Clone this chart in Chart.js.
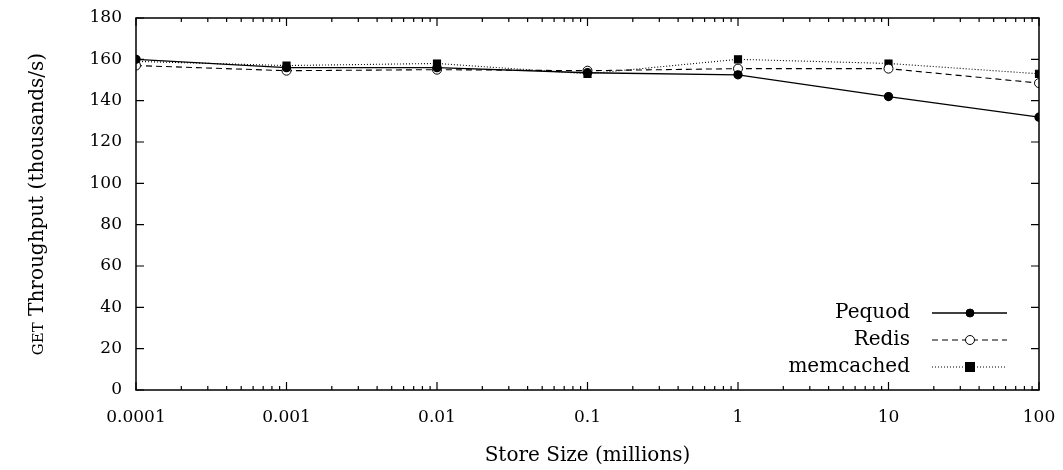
<!DOCTYPE html>
<html>
<head>
<meta charset="utf-8">
<script src="https://cdn.jsdelivr.net/npm/chart.js@4"></script>
<style>
	body { margin: 0; background: #fff; }
	#chart { display: block; }
</style>
</head>
<body>
<canvas id="chart" width="1063" height="470"></canvas>
<script>
// store sizes (millions), log x axis
var store_sizes = [0.0001, 0.001, 0.01, 0.1, 1, 10, 100];
var x_tick_labels = ['0.0001', '0.001', '0.01', '0.1', '1', '10', '100'];
var y_ticks = [0, 20, 40, 60, 80, 100, 120, 140, 160, 180];

// GET throughput, thousands/s
var pequod = [160, 156, 156, 153.5, 152.5, 142, 132];
var redis = [157, 154.5, 155, 154.5, 155.5, 155.5, 148.5];
var memcached = [159, 157, 158, 153, 160, 158, 153];

var FONT = "'DejaVu Serif', 'Liberation Serif', serif";

function to_points(values) {
	return store_sizes.map(function (s, i) { return { x: s, y: values[i] }; });
}

// gnuplot style frame: box, inward ticks on all four sides, legend inside, y title
var gnuplot_frame = {
	id: 'gnuplot_frame',
	afterDraw: function (chart) {
		var ctx = chart.ctx;
		var a = chart.chartArea;
		var xs = chart.scales.x;
		var ys = chart.scales.y;
		ctx.save();
		ctx.strokeStyle = '#000';
		ctx.lineWidth = 1.5;
		ctx.setLineDash([]);
		ctx.strokeRect(a.left, a.top, a.right - a.left, a.bottom - a.top);

		ctx.lineWidth = 1.2;
		ctx.beginPath();
		// y major ticks
		y_ticks.forEach(function (v) {
			var py = ys.getPixelForValue(v);
			ctx.moveTo(a.left, py); ctx.lineTo(a.left + 8, py);
			ctx.moveTo(a.right, py); ctx.lineTo(a.right - 8, py);
		});
		// x major and minor ticks
		store_sizes.forEach(function (v, i) {
			var px = xs.getPixelForValue(v);
			ctx.moveTo(px, a.bottom); ctx.lineTo(px, a.bottom - 8);
			ctx.moveTo(px, a.top); ctx.lineTo(px, a.top + 8);
			if (i < store_sizes.length - 1) {
				for (var m = 2; m < 10; m++) {
					var mx = xs.getPixelForValue(v * m);
					ctx.moveTo(mx, a.bottom); ctx.lineTo(mx, a.bottom - 4);
					ctx.moveTo(mx, a.top); ctx.lineTo(mx, a.top + 4);
				}
			}
		});
		ctx.stroke();

		// legend: label right-aligned, then line sample with marker
		var rows_y = [313, 340, 367];
		ctx.font = '20px ' + FONT;
		ctx.textAlign = 'right';
		ctx.textBaseline = 'middle';
		chart.data.datasets.forEach(function (ds, i) {
			var y = rows_y[i];
			ctx.fillStyle = '#000';
			ctx.fillText(ds.label, 910, y);
			ctx.beginPath();
			ctx.setLineDash(ds.borderDash || []);
			ctx.lineWidth = ds.borderWidth;
			ctx.moveTo(932, y); ctx.lineTo(1007, y);
			ctx.stroke();
			ctx.setLineDash([]);
			var r = ds.pointRadius;
			ctx.beginPath();
			if (ds.pointStyle === 'rect') {
				ctx.fillRect(970 - r, y - r, 2 * r, 2 * r);
			} else {
				ctx.arc(970, y, r, 0, Math.PI * 2);
				ctx.fillStyle = ds.pointBackgroundColor;
				ctx.fill();
				ctx.lineWidth = 1;
				ctx.stroke();
			}
		});

		// y title with small caps "GET"
		ctx.translate(36, (a.top + a.bottom) / 2);
		ctx.rotate(-Math.PI / 2);
		ctx.fillStyle = '#000';
		ctx.textAlign = 'left';
		ctx.textBaseline = 'alphabetic';
		var part1 = 'GET';
		var part2 = ' Throughput (thousands/s)';
		ctx.font = '15px ' + FONT;
		var w1 = ctx.measureText(part1).width;
		ctx.font = '20px ' + FONT;
		var w2 = ctx.measureText(part2).width;
		var start = -(w1 + w2) / 2;
		ctx.font = '15px ' + FONT;
		ctx.fillText(part1, start, 7);
		ctx.font = '20px ' + FONT;
		ctx.fillText(part2, start + w1, 7);
		ctx.restore();
	}
};

var ctx = document.getElementById('chart');
var myChart = new Chart(ctx, {
	type: 'line',
	data: {
		datasets: [{
			label: 'Pequod',
			data: to_points(pequod),
			borderColor: '#000',
			borderWidth: 1.3,
			pointStyle: 'circle',
			pointRadius: 4,
			pointBackgroundColor: '#000',
			pointBorderColor: '#000',
		}, {
			label: 'Redis',
			data: to_points(redis),
			borderColor: '#000',
			borderWidth: 1.1,
			borderDash: [6, 4],
			pointStyle: 'circle',
			pointRadius: 4.5,
			pointBackgroundColor: '#fff',
			pointBorderColor: '#000',
			pointBorderWidth: 1,
		}, {
			label: 'memcached',
			data: to_points(memcached),
			borderColor: '#000',
			borderWidth: 1.1,
			borderDash: [1, 2],
			pointStyle: 'rect',
			pointRadius: 5,
			pointBackgroundColor: '#000',
			pointBorderColor: '#000',
		}]
	},
	options: {
		responsive: false,
		devicePixelRatio: 1,
		animation: false,
		layout: { padding: { top: 18, right: 24, left: 0, bottom: 0 } },
		plugins: {
			legend: { display: false },
			tooltip: { enabled: false }
		},
		scales: {
			x: {
				type: 'logarithmic',
				min: 0.0001,
				max: 100,
				grid: { display: false, drawTicks: false },
				border: { display: false },
				afterBuildTicks: function (scale) {
					scale.ticks = store_sizes.map(function (v) { return { value: v }; });
				},
				afterFit: function (scale) {
					scale.height = 80;
					// labels may hang past the plot edges, like gnuplot
					scale.paddingLeft = 0;
					scale.paddingRight = 0;
				},
				ticks: {
					autoSkip: false,
					maxRotation: 0,
					padding: 17,
					color: '#000',
					font: { family: FONT, size: 17 },
					callback: function (v, i) { return x_tick_labels[i]; }
				},
				title: {
					display: true,
					text: 'Store Size (millions)',
					color: '#000',
					font: { family: FONT, size: 20 },
					padding: { top: 10, bottom: 2 }
				}
			},
			y: {
				min: 0,
				max: 180,
				grid: { display: false, drawTicks: false },
				border: { display: false },
				afterBuildTicks: function (scale) {
					scale.ticks = y_ticks.map(function (v) { return { value: v }; });
				},
				afterFit: function (scale) {
					scale.width = 136;
					scale.paddingTop = 0;
					scale.paddingBottom = 0;
				},
				ticks: {
					padding: 14,
					color: '#000',
					font: { family: FONT, size: 17 }
				}
			}
		}
	},
	plugins: [gnuplot_frame]
});
</script>
</body>
</html>
